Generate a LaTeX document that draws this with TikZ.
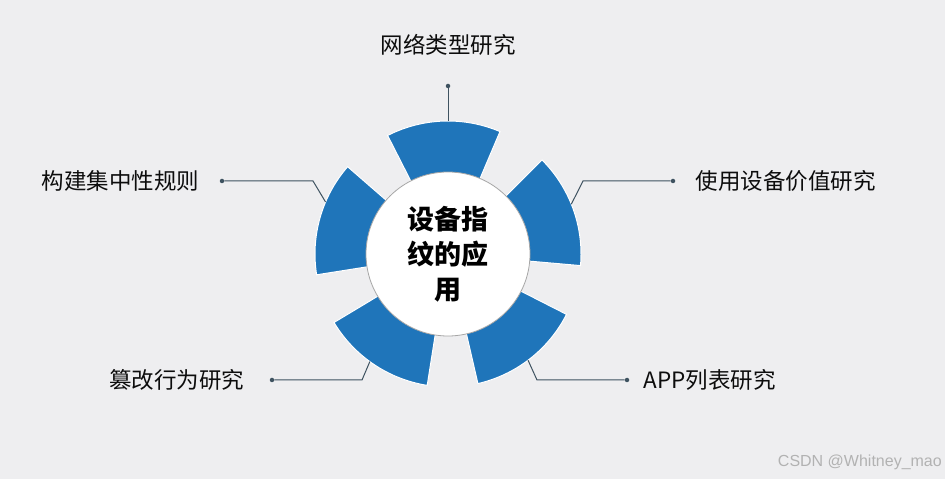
\documentclass[tikz,border=0pt]{standalone}
\usepackage{fontspec}
\setmainfont{Liberation Sans}
\newfontfamily\cjk{Noto Sans CJK SC}
\usetikzlibrary{positioning, calc}
\definecolor{segblue}{RGB}{31,117,186}
\definecolor{bggray}{RGB}{238,238,240}
\definecolor{linegray}{RGB}{62,82,96}

\begin{document}
\begin{tikzpicture}[x=1pt, y=1pt,
  seg/.style={fill=segblue, draw=white, line width=1pt},
  hub/.style={circle, fill=white, draw=gray!70, line width=0.8pt, minimum size=164pt, inner sep=0pt, align=center, font=\cjk\bfseries\fontsize{27}{35}\selectfont},
  lab/.style={inner sep=0pt, font=\cjk\fontsize{22.5}{26}\selectfont, text=black!95},
  dot/.style={circle, fill=linegray, inner sep=0pt, minimum size=4.5pt},
  link/.style={draw=linegray, line width=1pt}
]
  \fill[bggray] (0,0) rectangle (945,479);
  \useasboundingbox (0,0) rectangle (945,479);
  \coordinate (c) at (448,225);

  % ring segments
  \foreach \a [evaluate=\a as \s using \a-25, evaluate=\a as \e using \a+25] in {92,20,164,236,308}
    \draw[seg] ($(c)+(\s:133)$) arc[start angle=\s, end angle=\e, radius=133]
      -- ($(c)+(\e:80)$) arc[start angle=\e, end angle=\s, radius=80] -- cycle;

  \node[hub] (hub) at (c) {设备指\\纹的应\\用};

  % attach points on the ring
  \coordinate (aT) at ($(c)+(90:133)$);
  \coordinate (aL) at ($(c)+(157:133)$);
  \coordinate (aR) at ($(c)+(22:133)$);
  \coordinate (aLL) at ($(c)+(234:133)$);
  \coordinate (aLR) at ($(c)+(307:133)$);

  % bends
  \coordinate (bL) at (313,298);
  \coordinate (bR) at (583,298);
  \coordinate (bLL) at (362,99);
  \coordinate (bLR) at (537,99);

  % end dots
  \node[dot] (dT) at (448,393) {};
  \node[dot] (dL) at (222,298) {};
  \node[dot] (dR) at (673,298) {};
  \node[dot] (dLL) at (272,99) {};
  \node[dot] (dLR) at (627,99) {};

  % labels
  \node[lab, above=28pt of dT] (tT) {网络类型研究};
  \node[lab, left=20pt of dL] (tL) {构建集中性规则};
  \node[lab, right=20pt of dR] (tR) {使用设备价值研究};
  \node[lab, left=25pt of dLL] (tLL) {篡改行为研究};
  \node[lab, right=14pt of dLR] (tLR) {APP列表研究};

  \draw[link] (aT) -- (dT);
  \draw[link] (aL) -- (bL) -- (dL);
  \draw[link] (aR) -- (bR) -- (dR);
  \draw[link] (aLL) -- (bLL) -- (dLL);
  \draw[link] (aLR) -- (bLR) -- (dLR);

  \node[anchor=east, inner sep=0pt, text=gray!60, font=\fontsize{16}{18}\selectfont] (wm) at (942,17) {CSDN @Whitney\_mao};
\end{tikzpicture}
\end{document}
